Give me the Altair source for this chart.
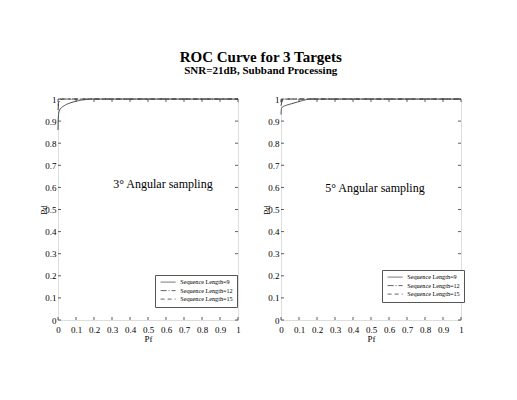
import altair as alt
import pandas as pd

series = ["Sequence Length=9", "Sequence Length=12", "Sequence Length=15"]

# Left panel (3 deg)
l9_x = [0, 0.001, 0.003, 0.006, 0.012, 0.025, 0.045, 0.07, 0.1, 0.13, 0.16, 0.18, 1.0]
l9_y = [0.86, 0.905, 0.93, 0.945, 0.955, 0.965, 0.975, 0.983, 0.99, 0.995, 0.998, 1.0, 1.0]
l12_x = [0, 0.003, 0.008, 0.015, 0.025, 1.0]
l12_y = [0.95, 0.975, 0.988, 0.996, 1.0, 1.0]
l15_x = [0, 0.003, 0.008, 0.015, 1.0]
l15_y = [0.97, 0.988, 0.996, 1.0, 1.0]

# Right panel (5 deg)
r9_x = [0, 0.002, 0.006, 0.012, 0.03, 0.06, 0.09, 0.12, 0.15, 0.16, 1.0]
r9_y = [0.93, 0.955, 0.962, 0.966, 0.972, 0.979, 0.986, 0.993, 0.999, 1.0, 1.0]
r12_x = [0, 0.004, 0.01, 0.02, 1.0]
r12_y = [0.97, 0.985, 0.995, 1.0, 1.0]
r15_x = [0, 0.004, 0.01, 1.0]
r15_y = [0.985, 0.995, 1.0, 1.0]

ticks = [0, 0.1, 0.2, 0.3, 0.4, 0.5, 0.6, 0.7, 0.8, 0.9, 1]

annot_left = {"x": 0.583, "y": 0.615, "t": "3° Angular sampling"}
annot_right = {"x": 0.522, "y": 0.597, "t": "5° Angular sampling"}

W, H = 180, 221
FONT = "Liberation Serif"
LBL = "datum.value == 0 ? '0' : datum.value == 1 ? '1' : format(datum.value, '.1f')"


def build_df(groups):
    rows = []
    for name, xs, ys in groups:
        for i, (a, b) in enumerate(zip(xs, ys)):
            rows.append({"series": name, "pf": a, "pd": b, "order": i})
    return pd.DataFrame(rows)


def panel(df, annot, legend_x, legend_y):
    xs = alt.Scale(domain=[0, 1], nice=False, zero=False)
    ys = alt.Scale(domain=[0, 1], nice=False, zero=False)
    common = dict(values=ticks, ticks=False, domain=False, grid=False,
                  labelFontSize=9, titleFontSize=9, labelFont=FONT, titleFont=FONT,
                  titleFontWeight="normal", labelColor="black", titleColor="black",
                  labelFlush=False, labelOverlap=False, labelExpr=LBL)
    xaxis = alt.Axis(labelPadding=5, titlePadding=0, **common)
    yaxis = alt.Axis(labelPadding=2, titlePadding=1, minExtent=9, maxExtent=9, **common)

    def X(f):
        return alt.X(f, scale=xs, axis=xaxis, title="Pf")

    def Y(f):
        return alt.Y(f, scale=ys, axis=yaxis, title="Pd")

    lines = alt.Chart(df).mark_line(strokeWidth=1, color="#444").encode(
        x=X("pf:Q"),
        y=Y("pd:Q"),
        order="order:Q",
        strokeDash=alt.StrokeDash(
            "series:N",
            scale=alt.Scale(domain=series, range=[[1, 0], [6, 2, 1, 2], [4, 3]]),
            legend=alt.Legend(
                title=None, orient="none", legendX=legend_x, legendY=legend_y,
                symbolType="M-3,0H3", symbolSize=25, symbolStrokeWidth=1,
                symbolStrokeColor="#666", symbolOffset=6, labelOffset=9,
                labelFont=FONT, labelFontSize=6.2, labelColor="black",
                strokeColor="#555", fillColor="white", padding=4, rowPadding=1.5,
                labelLimit=200,
            ),
        ),
    )
    tdf = pd.DataFrame({"t": ticks})
    tick_style = dict(color="#333", strokeWidth=0.8)
    bottom = alt.Chart(tdf).mark_rule(**tick_style).encode(
        x=X("t:Q"), y=alt.value(H), y2=alt.value(H - 3))
    top = alt.Chart(tdf).mark_rule(**tick_style).encode(
        x=X("t:Q"), y=alt.value(0), y2=alt.value(3))
    left = alt.Chart(tdf).mark_rule(**tick_style).encode(
        y=Y("t:Q"), x=alt.value(0), x2=alt.value(3))
    right = alt.Chart(tdf).mark_rule(**tick_style).encode(
        y=Y("t:Q"), x=alt.value(W), x2=alt.value(W - 3))
    adf = pd.DataFrame([annot])
    text = alt.Chart(adf).mark_text(font=FONT, fontSize=12, color="black",
                                    align="center", baseline="middle").encode(
        x=X("x:Q"), y=Y("y:Q"), text="t:N")
    return alt.layer(lines, bottom, top, left, right, text).properties(width=W, height=H)


left_df = build_df([(series[0], l9_x, l9_y), (series[1], l12_x, l12_y), (series[2], l15_x, l15_y)])
right_df = build_df([(series[0], r9_x, r9_y), (series[1], r12_x, r12_y), (series[2], r15_x, r15_y)])

chart = alt.hconcat(
    panel(left_df, annot_left, 97, 176),
    panel(right_df, annot_right, 101, 171),
    spacing=20,
).resolve_legend(strokeDash="independent").properties(
    title=alt.TitleParams(
        text="ROC Curve for 3 Targets",
        subtitle="SNR=21dB, Subband Processing",
        font=FONT, fontSize=15, fontWeight="bold", color="black",
        subtitleFont=FONT, subtitleFontSize=11, subtitleFontWeight="bold",
        subtitleColor="black", anchor="middle", offset=19, subtitlePadding=0,
        dx=9,
    ),
    padding={"left": 30, "top": 41, "right": 5, "bottom": 5},
).configure_view(stroke="#333", strokeWidth=1).configure(background="white")

chart.save("out.html", embed_options={"renderer": "svg", "actions": False})
